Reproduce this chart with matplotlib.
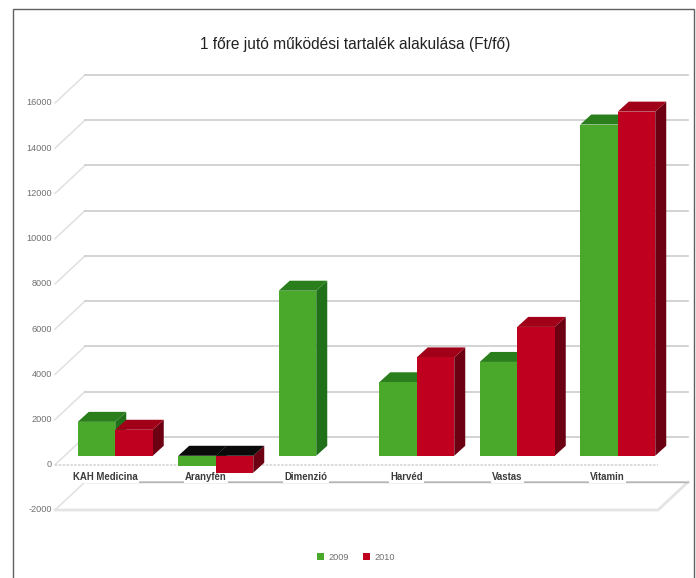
import matplotlib
matplotlib.use("Agg")
import matplotlib.pyplot as plt
from matplotlib.patches import Polygon, Rectangle

plt.rcParams['font.family'] = ['Liberation Sans', 'DejaVu Sans']

categories = ["KAH Medicina", "Aranyfén", "Dimenzió", "Harvéd", "Vastas", "Vitamin"]
series_names = ["2009", "2010"]
values_2009 = [1500, -450, 7300, 3250, 4150, 14650]
values_2010 = [1150, -750, None, 4350, 5700, 15220]
y_ticks = [-2000, 0, 2000, 4000, 6000, 8000, 10000, 12000, 14000, 16000]
title = "1 főre jutó működési tartalék alakulása (Ft/fő)"

W, H = 696, 578
fig = plt.figure(figsize=(W / 100, H / 100), dpi=100, facecolor="white")

# frame
frame = fig.add_axes([0, 0, 1, 1], zorder=0)
frame.set_xlim(0, W); frame.set_ylim(H, 0); frame.axis("off")
frame.plot([13, 13, 694, 694], [H, 9, 9, H], color="#606060", lw=1.0, solid_joinstyle="miter")

# front plane of the chart: x 55..658 px, y 510..103 px
ax = fig.add_axes([55 / W, 1 - 510 / H, 603 / W, 407 / H], zorder=1)
ax.set_xlim(0, 6)
ax.set_ylim(-2000, 16000)
ax.axis("off")

px_x = 6 / 603
px_y = 18000 / 407
def wall(px, py):
    return px * px_x, py * px_y

back_dx, back_dy = wall(30, 28)
for t in y_ticks:
    ax.plot([0, back_dx], [t, t + back_dy], color="#e0e0e0", lw=1.1, clip_on=False, zorder=1)
    ax.plot([back_dx, 6 + back_dx], [t + back_dy, t + back_dy], color="#cccccc", lw=1.2,
            clip_on=False, zorder=1)
    ax.text(-0.03, t, str(t), ha="right", va="center", fontsize=6.6, color="#707070", clip_on=False)

# floor
ax.plot([0, 6, 6 + back_dx], [-2000, -2000, -2000 + back_dy], color="#e4e4e4", lw=2.0, clip_on=False, zorder=1)
ax.plot([back_dx, 6 + back_dx], [-2000 + back_dy] * 2, color="#b5b5b5", lw=1.0, clip_on=False, zorder=1.1)
# zero line on the front plane
ax.plot([0, 6], [0, 0], color="#d5d5d5", lw=1.2, ls=(0, (1.5, 0.8)), clip_on=False, zorder=1.2)

off_dx, off_dy = wall(10, 9)      # bars stand a little behind the front plane
side_dx, side_dy = wall(11, 10)   # bar depth
bar_w = 37.5 * px_x

colors = [("#4aa82a", "#2a7f1c", "#1f7018"), ("#bf001e", "#a00018", "#6c0012")]

def draw_bar(x0, v, cols, z):
    front, top, side = cols
    x1 = x0 + bar_w
    lo, hi = min(0, v), max(0, v)
    b = off_dy
    ax.add_patch(Polygon([(x1, b + lo), (x1 + side_dx, b + lo + side_dy),
                          (x1 + side_dx, b + hi + side_dy), (x1, b + hi)],
                         fc=side, ec="none", zorder=z, clip_on=False))
    top_c = "#0a0a0a" if v < 0 else top
    ax.add_patch(Polygon([(x0, b + hi), (x0 + side_dx, b + hi + side_dy),
                          (x1 + side_dx, b + hi + side_dy), (x1, b + hi)],
                         fc=top_c, ec="none", zorder=z, clip_on=False))
    ax.add_patch(Rectangle((x0, b + lo), bar_w, hi - lo, fc=front, ec="none", zorder=z + 0.1, clip_on=False))

for i, name in enumerate(categories):
    xc = i + 0.5 + off_dx
    draw_bar(xc - bar_w, values_2009[i], colors[0], 3)
    if values_2010[i] is not None:
        draw_bar(xc, values_2010[i], colors[1], 4)
    ax.text(i + 0.5, -520, name, ha="center", va="center", fontsize=6.9, fontweight="bold",
            color="#3c3c3c", clip_on=False, zorder=2,
            bbox=dict(fc="white", ec="none", pad=1.0))

frame.text(355, 44, title, ha="center", va="center", fontsize=11.2, color="#222222")

handles = [Rectangle((0, 0), 1, 1, fc=colors[0][0]), Rectangle((0, 0), 1, 1, fc=colors[1][0])]
leg = frame.legend(handles, series_names, loc="center", bbox_to_anchor=(356, 557),
                   bbox_transform=frame.transData, ncol=2, frameon=False, fontsize=6.6,
                   handlelength=0.75, handleheight=0.75, handletextpad=0.5, columnspacing=1.5,
                   labelcolor="#707070")

fig.savefig("out.png", dpi=100)
